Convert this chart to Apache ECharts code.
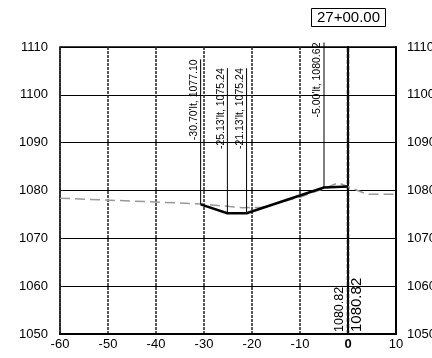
<!DOCTYPE html>
<html>
<head>
<meta charset="utf-8">
<script src="https://cdn.jsdelivr.net/npm/echarts@6/dist/echarts.min.js"></script>
<style>html,body{margin:0;padding:0;background:#fff;}#c{width:432px;height:358px;}</style>
</head>
<body>
<div id="c"></div>
<script>
// ---- data ----
const STATION = '27+00.00';
const X_MIN = -60, X_MAX = 10, X_STEP = 10;
const Y_MIN = 1050, Y_MAX = 1110, Y_STEP = 10;
const DESIGN_X = [-30.70, -25.13, -21.13, -5.00, 0];
const DESIGN_Y = [1077.10, 1075.24, 1075.24, 1080.62, 1080.82];
const POINT_LABELS = ["-30.70'lt, 1077.10", "-25.13'lt, 1075.24", "-21.13'lt, 1075.24", "-5.00'lt, 1080.62"];
const GROUND_X = [-60, -30.7, -22, -18, -10, -5, -2, 4, 10];
const GROUND_Y = [1078.4, 1077.2, 1076.4, 1076.5, 1078.6, 1080.4, 1081.6, 1079.2, 1079.2];
const CENTER_X = 0;
const CENTER_LABEL = '1080.82';

const FONT = 'Liberation Sans, Arial, sans-serif';
const zip = (a, b) => a.map((v, i) => [v, b[i]]);

const labelPts = POINT_LABELS.map((t, i) => [DESIGN_X[i], DESIGN_Y[i], t]);

const chart = echarts.init(document.getElementById('c'), null, {renderer: 'canvas'});
chart.setOption({
  animation: false,
  backgroundColor: '#fff',
  grid: {left: 60, right: 36, top: 47, bottom: 24, containLabel: false, outerBoundsMode: 'none',
         show: true, borderColor: '#000', borderWidth: 1.5, backgroundColor: 'transparent'},
  xAxis: {
    type: 'value', min: X_MIN, max: X_MAX, interval: X_STEP,
    axisLine: {show: true, lineStyle: {color: '#000', width: 2}},
    axisTick: {show: false},
    axisLabel: {
      color: '#000', fontSize: 13, fontFamily: FONT, margin: 4,
      formatter: v => v === 0 ? '{b|0}' : String(v),
      rich: {b: {fontWeight: 'bold', fontSize: 13, fontFamily: FONT, color: '#000'}}
    },
    splitLine: {show: true, lineStyle: {color: '#222', width: 1.5, type: [3, 1]}}
  },
  yAxis: [{
    type: 'value', min: Y_MIN, max: Y_MAX, interval: Y_STEP, position: 'left',
    axisLine: {show: true, lineStyle: {color: '#000', width: 2}},
    axisTick: {show: false},
    axisLabel: {color: '#000', fontSize: 13, fontFamily: FONT, margin: 12, formatter: v => String(v)},
    splitLine: {show: true, lineStyle: {color: '#000', width: 1}}
  }, {
    type: 'value', min: Y_MIN, max: Y_MAX, interval: Y_STEP, position: 'right',
    axisLine: {show: true, lineStyle: {color: '#000', width: 2}},
    axisTick: {show: false},
    axisLabel: {color: '#000', fontSize: 13, fontFamily: FONT, margin: 11, align: 'left', formatter: v => String(v)},
    splitLine: {show: false}
  }],
  graphic: [{
    type: 'group', left: 311, top: 8,
    children: [
      {type: 'rect', shape: {x: 0, y: 0, width: 74, height: 18}, style: {fill: '#fff', stroke: '#000', lineWidth: 1}},
      {type: 'text', x: 37, y: 9.5, style: {text: STATION, font: '15px ' + FONT, fill: '#000', align: 'center', verticalAlign: 'middle'}}
    ]
  }],
  series: [
    {
      type: 'line', data: [[CENTER_X, Y_MIN], [CENTER_X, Y_MAX]], symbol: 'none', silent: true,
      lineStyle: {color: '#111', width: 2.5, type: [4, 2]}, z: 3
    },
    {
      type: 'line', data: zip(GROUND_X, GROUND_Y), symbol: 'none', silent: true,
      lineStyle: {color: '#999', width: 1.5, type: [10, 5]}, z: 4
    },
    {
      type: 'line', data: zip(DESIGN_X, DESIGN_Y), symbol: 'none', silent: true,
      lineStyle: {color: '#000', width: 2.5}, z: 5
    },
    {
      type: 'custom', data: labelPts, silent: true, z: 6,
      renderItem: (params, api) => {
        const p = api.coord([api.value(0), api.value(1)]);
        const top = p[1] - 145;
        return {
          type: 'group',
          children: [
            {type: 'line', shape: {x1: p[0], y1: p[1], x2: p[0], y2: top}, style: {stroke: '#000', lineWidth: 1}},
            {type: 'text', x: p[0] - 1, y: top, rotation: Math.PI / 2,
             style: {text: labelPts[params.dataIndex][2], font: '10.5px ' + FONT, fill: '#000', align: 'right', verticalAlign: 'bottom'}}
          ]
        };
      }
    },
    {
      type: 'custom', data: [[CENTER_X, Y_MIN]], silent: true, z: 6,
      renderItem: (params, api) => {
        const p = api.coord([api.value(0), api.value(1)]);
        return {
          type: 'group',
          children: [
            {type: 'text', x: p[0] - 2, y: p[1] - 2, rotation: Math.PI / 2,
             style: {text: CENTER_LABEL, font: '12.5px ' + FONT, fill: '#000', align: 'left', verticalAlign: 'bottom'}},
            {type: 'text', x: p[0] + 1, y: p[1] - 2, rotation: Math.PI / 2,
             style: {text: CENTER_LABEL, font: '15px ' + FONT, fill: '#000', align: 'left', verticalAlign: 'top'}}
          ]
        };
      }
    }
  ]
});
</script>
</body>
</html>
